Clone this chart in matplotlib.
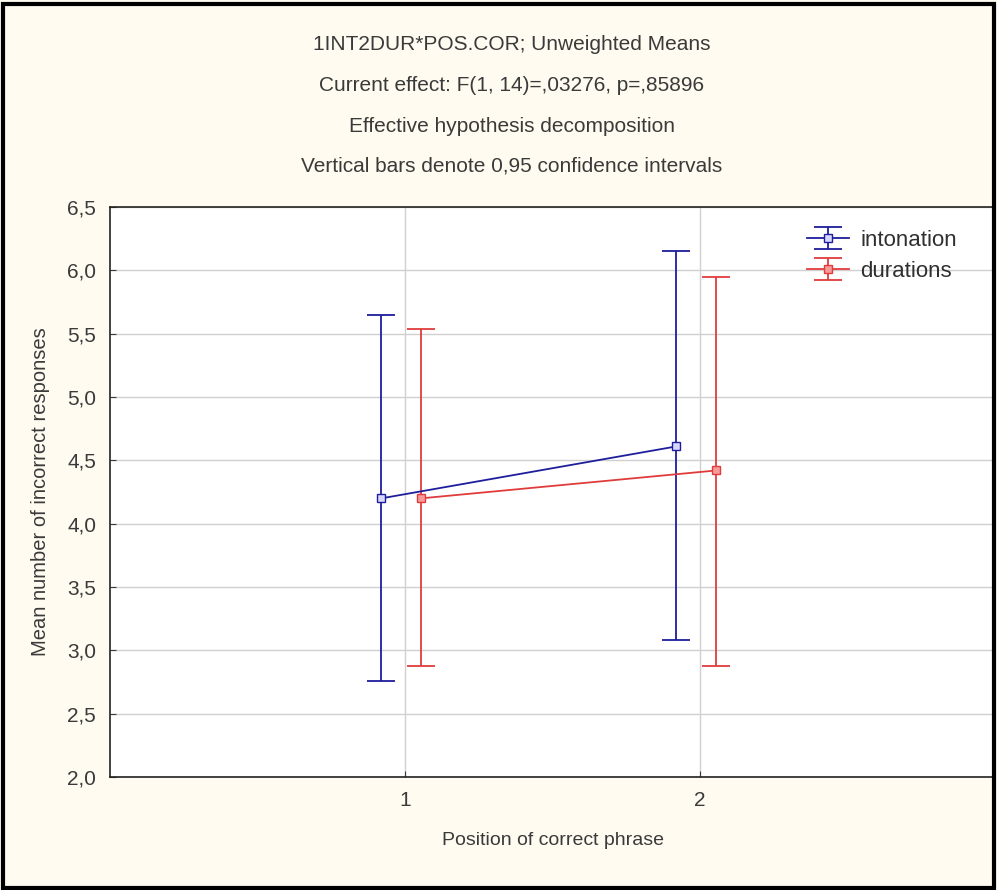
import numpy as np
import matplotlib.pyplot as plt
from matplotlib.patches import Rectangle
from matplotlib.ticker import FuncFormatter

plt.rcParams['font.family'] = ['Liberation Sans', 'DejaVu Sans']

positions = [1, 2]
series = ['intonation', 'durations']
means = {'intonation': [4.20, 4.61], 'durations': [4.20, 4.42]}
ci_low = {'intonation': [2.76, 3.08], 'durations': [2.88, 2.88]}
ci_high = {'intonation': [5.65, 6.15], 'durations': [5.54, 5.95]}
title_lines = ['1INT2DUR*POS.COR; Unweighted Means',
               'Current effect: F(1, 14)=,03276, p=,85896',
               'Effective hypothesis decomposition',
               'Vertical bars denote 0,95 confidence intervals']

colors = {'intonation': '#1e1e9c', 'durations': '#e03c3c'}
faces = {'intonation': '#d8d8ff', 'durations': '#f79a9a'}
offsets = {'intonation': -0.08, 'durations': 0.055}

bg = '#fffbf0'
txt = '#3a3a3a'
fig = plt.figure(figsize=(9.97, 8.90), dpi=100, facecolor=bg)
ax = fig.add_axes([110/997, 1-777/890, 885/997, 570/890])
ax.set_facecolor('white')

for s in series:
    x = np.array(positions) + offsets[s]
    m = np.array(means[s])
    lo = m - np.array(ci_low[s])
    hi = np.array(ci_high[s]) - m
    ax.errorbar(x, m, yerr=[lo, hi], color=colors[s], marker='s', ms=6,
                mfc=faces[s], mec=colors[s], lw=1.3, elinewidth=1.3,
                capsize=10, capthick=1.3, label=s, zorder=3)

ax.set_xlim(0, 3)
ax.set_ylim(2.0, 6.5)
ax.set_xticks(positions)
ax.set_yticks(np.arange(2.0, 6.51, 0.5))
ax.yaxis.set_major_formatter(FuncFormatter(lambda v, p: f'{v:.1f}'.replace('.', ',')))
ax.grid(True, color='#d0d0d0', lw=1)
ax.set_axisbelow(True)
ax.tick_params(direction='in', length=4, labelsize=15, colors=txt, pad=10)
for sp in ax.spines.values():
    sp.set_linewidth(1.2)
    sp.set_color('#222222')
ax.spines['right'].set_visible(False)

ax.set_ylabel('Mean number of incorrect responses', fontsize=14.5, color=txt, labelpad=12)
ax.set_xlabel('Position of correct phrase', fontsize=14, color=txt, labelpad=16)

leg = ax.legend(loc='upper left', frameon=False, fontsize=16, handlelength=1.9,
                bbox_to_anchor=(0.765, 0.995), labelspacing=0.45, handletextpad=0.5)
for t in leg.get_texts():
    t.set_color('#303030')

for i, t in enumerate(title_lines):
    fig.text(512/997, 1 - (45 + 40.5*i)/890, t, ha='center', va='center',
             fontsize=15, color=txt)

fig.patches.append(Rectangle((0.003, 0.002), 0.994, 0.994, transform=fig.transFigure,
                             fill=False, ec='black', lw=3))

fig.savefig('out.png', dpi=100, facecolor=bg)
